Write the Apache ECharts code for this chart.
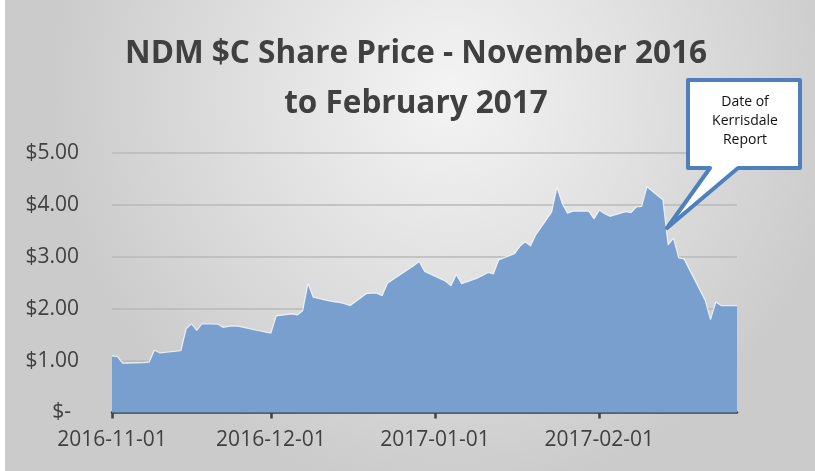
<!DOCTYPE html>
<html>
<head>
<meta charset="utf-8">
<script src="https://cdn.jsdelivr.net/npm/echarts@6/dist/echarts.min.js"></script>
<style>
  html, body { margin: 0; padding: 0; background: #ffffff; }
  #chart { position: absolute; left: 5px; top: 0; width: 810px; height: 471px; }
</style>
</head>
<body>
<div id="chart"></div>
<script>
// trading days and closing price ($C)
const dates = [
  '2016-11-01', '2016-11-02', '2016-11-03', '2016-11-04', '2016-11-07', '2016-11-08',
  '2016-11-09', '2016-11-10', '2016-11-11', '2016-11-14', '2016-11-15', '2016-11-16',
  '2016-11-17', '2016-11-18', '2016-11-21', '2016-11-22', '2016-11-23', '2016-11-24',
  '2016-11-25', '2016-11-28', '2016-11-29', '2016-11-30', '2016-12-01', '2016-12-02',
  '2016-12-05', '2016-12-06', '2016-12-07', '2016-12-08', '2016-12-09', '2016-12-12',
  '2016-12-13', '2016-12-14', '2016-12-15', '2016-12-16', '2016-12-19', '2016-12-20',
  '2016-12-21', '2016-12-22', '2016-12-23', '2016-12-28', '2016-12-29', '2016-12-30',
  '2017-01-03', '2017-01-04', '2017-01-05', '2017-01-06', '2017-01-09', '2017-01-10',
  '2017-01-11', '2017-01-12', '2017-01-13', '2017-01-16', '2017-01-17', '2017-01-18',
  '2017-01-19', '2017-01-20', '2017-01-23', '2017-01-24', '2017-01-25', '2017-01-26',
  '2017-01-27', '2017-01-30', '2017-01-31', '2017-02-01', '2017-02-02', '2017-02-03',
  '2017-02-06', '2017-02-07', '2017-02-08', '2017-02-09', '2017-02-10', '2017-02-13',
  '2017-02-14', '2017-02-15', '2017-02-16', '2017-02-17', '2017-02-21', '2017-02-22',
  '2017-02-23', '2017-02-24', '2017-02-27'
]
const prices = [
  1.09, 1.08, 0.95, 0.95, 0.96, 0.97,
  1.20, 1.15, 1.16, 1.19, 1.61, 1.71,
  1.58, 1.71, 1.70, 1.64, 1.66, 1.67,
  1.66, 1.59, 1.57, 1.55, 1.53, 1.86,
  1.90, 1.88, 1.96, 2.49, 2.22, 2.15,
  2.13, 2.12, 2.09, 2.06, 2.29, 2.30,
  2.30, 2.25, 2.49, 2.83, 2.91, 2.72,
  2.53, 2.44, 2.66, 2.48, 2.59, 2.64,
  2.70, 2.67, 2.94, 3.06, 3.20, 3.29,
  3.21, 3.42, 3.86, 4.34, 4.03, 3.84,
  3.88, 3.88, 3.73, 3.90, 3.83, 3.78,
  3.87, 3.85, 3.96, 3.97, 4.35, 4.10,
  3.23, 3.36, 2.98, 2.96, 2.16, 1.79,
  2.13, 2.06, 2.06
]
const tickDates = ['2016-11-01', '2016-12-01', '2017-01-01', '2017-02-01']
const axisStart = '2016-11-01'
const axisEnd = '2017-02-27'
const yTicks = [0, 1, 2, 3, 4, 5]
const titleText = 'NDM $C Share Price - November 2016\nto February 2017'
const calloutLines = ['Date of', 'Kerrisdale', 'Report']

// x axis is a plain value axis counted in days from axisStart (UTC, so no DST drift)
const DAY = 86400000
const utc = s => {
  const [y, m, d] = s.split('-').map(Number)
  return Date.UTC(y, m - 1, d)
}
const dayNo = s => Math.round((utc(s) - utc(axisStart)) / DAY)
const dayLabel = n => new Date(utc(axisStart) + n * DAY).toISOString().slice(0, 10)

const chart = echarts.init(document.getElementById('chart'))

const option = {
  animation: false,
  backgroundColor: new echarts.graphic.RadialGradient(0.55, 0.2, 0.85, [
    { offset: 0, color: '#f4f4f4' },
    { offset: 1, color: '#cbcbcb' }
  ]),
  title: {
    text: titleText,
    left: 406,
    textAlign: 'center',
    top: 24,
    textStyle: {
      fontFamily: 'Open Sans',
      fontWeight: 'bold',
      fontSize: 31.5,
      lineHeight: 50,
      color: '#404040'
    }
  },
  grid: { left: 107, right: 78, top: 153, bottom: 58.5 },
  xAxis: {
    type: 'value',
    min: dayNo(axisStart),
    max: dayNo(axisEnd),
    axisLine: { onZero: false, lineStyle: { color: '#404040', width: 2.5 } },
    axisTick: {
      customValues: tickDates.map(dayNo),
      length: 6,
      lineStyle: { color: '#404040', width: 2.5 }
    },
    axisLabel: {
      customValues: tickDates.map(dayNo),
      formatter: v => dayLabel(v),
      fontFamily: 'Open Sans',
      fontSize: 21,
      color: '#404040',
      margin: 17
    },
    splitLine: { show: false }
  },
  yAxis: {
    type: 'value',
    min: yTicks[0],
    max: yTicks[yTicks.length - 1],
    interval: 1,
    axisLine: { show: false },
    axisTick: { show: false },
    axisLabel: {
      margin: 33,
      fontFamily: 'Open Sans',
      fontSize: 21,
      color: '#404040',
      formatter: v => (v === 0 ? '{z|$-}' : '$' + v.toFixed(2)),
      rich: {
        z: { fontFamily: 'Open Sans', fontSize: 21, color: '#404040', padding: [0, 8, 0, 0] }
      }
    },
    splitLine: { lineStyle: { color: '#b8b8b8', width: 1.5 } }
  },
  series: [
    {
      type: 'line',
      data: dates.map((d, i) => [dayNo(d), prices[i]]),
      symbol: 'none',
      lineStyle: { color: 'rgba(255,255,255,0.75)', width: 1.2 },
      areaStyle: { color: '#789fcd', opacity: 1 },
      z: 3
    }
  ],
  graphic: [
    {
      type: 'polygon',
      z: 100,
      shape: {
        points: [
          [683, 80], [795, 80], [795, 168], [733, 168], [662, 228], [705, 168], [683, 168]
        ]
      },
      style: { fill: '#ffffff', stroke: '#4e80bc', lineWidth: 4, lineJoin: 'round' }
    },
    {
      type: 'text',
      z: 101,
      x: 740,
      y: 93,
      style: {
        text: calloutLines.join('\n'),
        align: 'center',
        verticalAlign: 'top',
        font: '14px "Open Sans"',
        lineHeight: 19,
        fill: '#111111'
      }
    }
  ]
}

chart.setOption(option)
</script>
</body>
</html>
